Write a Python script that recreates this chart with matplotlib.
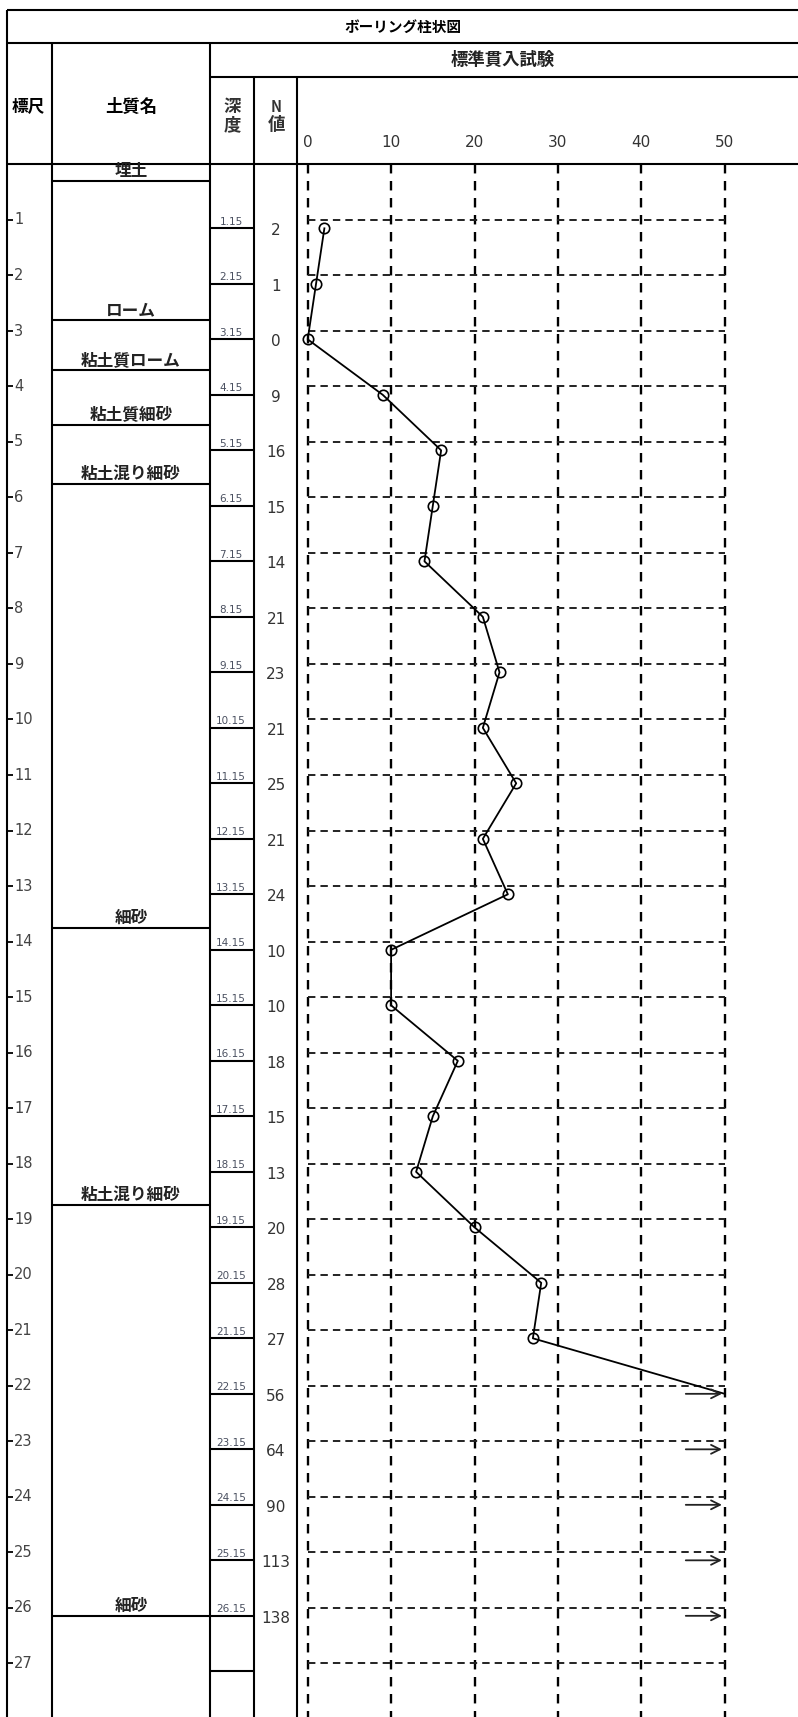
import matplotlib
matplotlib.use("Agg")
import matplotlib.pyplot as plt

plt.rcParams["font.family"] = ["Noto Sans CJK JP", "DejaVu Sans"]

spt_depth = [1.15, 2.15, 3.15, 4.15, 5.15, 6.15, 7.15, 8.15, 9.15, 10.15,
             11.15, 12.15, 13.15, 14.15, 15.15, 16.15, 17.15, 18.15, 19.15,
             20.15, 21.15, 22.15, 23.15, 24.15, 25.15, 26.15]
n_value = [2, 1, 0, 9, 16, 15, 14, 21, 23, 21, 25, 21, 24, 10, 10, 18, 15,
           13, 20, 28, 27, 56, 64, 90, 113, 138]
extra_row = [27.15]

soil_name = ["埋土", "ローム", "粘土質ローム", "粘土質細砂", "粘土混り細砂",
             "細砂", "粘土混り細砂", "細砂"]
soil_bottom = [0.3, 2.8, 3.7, 4.7, 5.75, 13.75, 18.75, 26.15]

ruler = list(range(1, 28))
n_ticks = [0, 10, 20, 30, 40, 50]
n_cap = 50

# layout (pixels)
W, H = 798, 1717
top_body = 164.5
px_per_m = 55.5
x_left, x_soil, x_dep, x_n, x_chart = 7, 52, 210, 254, 297
n0_px, px_per_n = 307.7, 8.34
depth_max = (H - top_body) / px_per_m
lw = 1.5

fig = plt.figure(figsize=(W / 100, H / 100), dpi=100)

# frame in pixel coordinates
ax_f = fig.add_axes([0, 0, 1, 1])
ax_f.set_xlim(0, W)
ax_f.set_ylim(H, 0)
ax_f.axis("off")

ax_f.hlines([10, 43, top_body], x_left, W, color="black", lw=lw)
ax_f.hlines(77, x_dep, W, color="black", lw=lw)
ax_f.vlines(x_left, 10, H, color="black", lw=lw)
ax_f.vlines([x_soil, x_dep], 43, H, color="black", lw=lw)
ax_f.vlines([x_n, x_chart], 77, H, color="black", lw=lw)

ax_f.text(403, 27, "ボーリング柱状図", ha="center", va="center",
          fontsize=10.5, fontweight="bold")
ax_f.text(503, 60, "標準貫入試験", ha="center", va="center",
          fontsize=12.5, fontweight="bold", color="#222222")
ax_f.text(28, 107, "標尺", ha="center", va="center",
          fontsize=12, fontweight="bold")
ax_f.text(131, 107, "土質名", ha="center", va="center",
          fontsize=12.5, fontweight="bold")
ax_f.text(232, 107, "深", ha="center", va="center", fontsize=12.5,
          fontweight="bold", color="#333333")
ax_f.text(232, 125, "度", ha="center", va="center", fontsize=12.5,
          fontweight="bold", color="#333333")
ax_f.text(276, 107, "N", ha="center", va="center", fontsize=10.5,
          fontweight="bold", color="#333333")
ax_f.text(276, 125, "値", ha="center", va="center", fontsize=12.5,
          fontweight="bold", color="#333333")

# body: x in pixels, y in depth
ax_b = fig.add_axes([0, 0, 1, (H - top_body) / H])
ax_b.set_xlim(0, W)
ax_b.set_ylim(depth_max, 0)
ax_b.axis("off")

ax_b.hlines(ruler, x_left, x_left + 6, color="black", lw=1.3)
for d in ruler:
    ax_b.text(x_left + 7, d, str(d), ha="left", va="center",
              fontsize=10.5, color="#444444", family="DejaVu Sans")

ax_b.hlines(soil_bottom, x_soil, x_dep, color="black", lw=lw)
for name, d in zip(soil_name, soil_bottom):
    ax_b.text(131, d - 0.02, name, ha="center", va="bottom",
              fontsize=12, fontweight="bold", color="#222222")

ax_b.hlines(spt_depth + extra_row, x_dep, x_n, color="black", lw=lw)
for d, n in zip(spt_depth, n_value):
    ax_b.text(231, d - 0.03, f"{d:.2f}", ha="center", va="bottom",
              fontsize=7.5, color="#4a5060", family="DejaVu Sans")
    ax_b.text(276, d + 0.04, str(n), ha="center", va="center",
              fontsize=11, color="#333333", family="DejaVu Sans")

# N value chart
ax_n = fig.add_axes([x_chart / W, 0, (W - x_chart) / W, (H - top_body) / H])
ax_n.set_xlim((x_chart - n0_px) / px_per_n, (W - n0_px) / px_per_n)
ax_n.set_ylim(depth_max, 0)
ax_n.axis("off")

ax_n.vlines(n_ticks, 0, depth_max, color="black", lw=1.7,
            linestyles=(0, (4, 3.2)))
ax_n.hlines(ruler, 0, n_cap, color="#222222", lw=1.4,
            linestyles=(0, (3.8, 2.6)))

for v in n_ticks:
    ax_n.text(v, -0.4, str(v), ha="center", va="center", fontsize=11,
              color="#333333", family="DejaVu Sans", clip_on=False)

# line up to first capped value, markers only for measured <= cap
k = next(i for i, n in enumerate(n_value) if n > n_cap)
ax_n.plot([min(n, n_cap) for n in n_value[:k + 1]], spt_depth[:k + 1],
          color="black", lw=1.3)
ax_n.plot(n_value[:k], spt_depth[:k], "o", ms=7.5, mfc="none",
          mec="black", mew=1.2)

for d, n in zip(spt_depth, n_value):
    if n > n_cap:
        ax_n.annotate("", xy=(n_cap, d), xytext=(n_cap - 5, d),
                      arrowprops=dict(arrowstyle="->", color="#222222",
                                      lw=1.3, mutation_scale=16))

fig.savefig("out.png", dpi=100)
